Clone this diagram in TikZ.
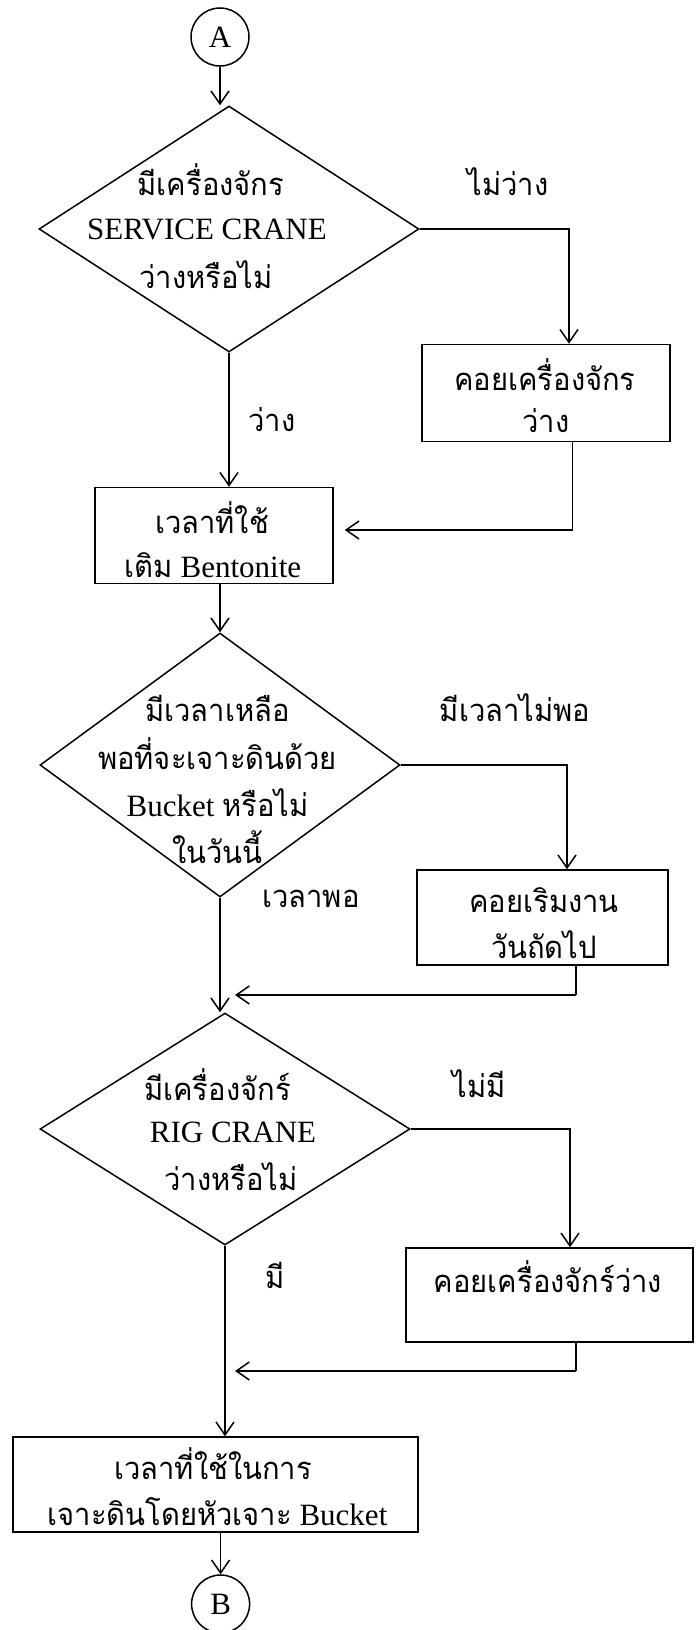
\documentclass[tikz,border=0pt]{standalone}
\usepackage{fontspec}
\setmainfont{Liberation Serif}
\newfontfamily\thaifont[Script=Thai,FakeStretch=0.94]{Loma}
\usetikzlibrary{shapes.geometric,arrows.meta}
\newcommand{\tx}[1]{{\thaifont #1}}
\begin{document}
\begin{tikzpicture}[x=1pt,y=1pt]
\tikzset{
  ln/.style={line width=1.5pt},
  arr/.style={ln, -{Straight Barb[length=13pt,width=18pt,line width=1.5pt]}},
  boxn/.style={draw, line width=1.5pt, rectangle, inner sep=0pt},
  dia/.style={draw, line width=1.5pt, diamond, inner sep=0pt},
  txt/.style={font=\fontsize{31}{36}\selectfont, inner sep=0pt},
  circ/.style={draw, line width=1.5pt, circle, inner sep=0pt, minimum size=58pt, font=\fontsize{31}{36}\selectfont}
}
\useasboundingbox (0,0) rectangle (696,-1630);
\fill[white] (0,0) rectangle (696,-1630);

% nodes
\node[circ] (A) at (220,-37) {A};
\node[dia, minimum width=380pt, minimum height=246pt] (d1) at (229,-229) {};
\node[txt] (d1a) at (211,-180) {\tx{มีเครื่องจักร}};
\node[txt] (d1b) at (207,-229) {SERVICE CRANE};
\node[txt] (d1c) at (206,-275) {\tx{ว่างหรือไม่}};
\node[txt] (l1) at (508,-182) {\tx{ไม่ว่าง}};

\node[boxn, minimum width=248pt, minimum height=97pt] (b2) at (546,-393) {};
\node[txt] (b2a) at (545,-375) {\tx{คอยเครื่องจักร}};
\node[txt] (b2b) at (546,-421) {\tx{ว่าง}};
\node[txt] (l2) at (272,-420) {\tx{ว่าง}};

\node[boxn, minimum width=238pt, minimum height=96pt] (b3) at (214,-535.5) {};
\node[txt] (b3a) at (212,-518) {\tx{เวลาที่ใช้}};
\node[txt] (b3b) at (213,-565) {\tx{เติม} Bentonite};

\node[dia, minimum width=360pt, minimum height=264pt] (d2) at (220,-765) {};
\node[txt] (d2a) at (217.5,-708) {\tx{มีเวลาเหลือ}};
\node[txt] (d2b) at (217.5,-754) {\tx{พอที่จะเจาะดินด้วย}};
\node[txt] (d2c) at (217.5,-802.5) {Bucket \tx{หรือไม่}};
\node[txt] (d2d) at (217.5,-847) {\tx{ในวันนี้}};
\node[txt] (l3) at (515,-708) {\tx{มีเวลาไม่พอ}};

\node[boxn, minimum width=251pt, minimum height=95pt] (b4) at (542.5,-917.5) {};
\node[txt] (b4a) at (544,-900) {\tx{คอยเริมงาน}};
\node[txt] (b4b) at (544,-945) {\tx{วันถัดไป}};
\node[txt] (l4) at (311,-899) {\tx{เวลาพอ}};

\node[dia, minimum width=370pt, minimum height=232pt] (d3) at (225,-1129) {};
\node[txt] (d3a) at (217.5,-1084.6) {\tx{มีเครื่องจักร์}};
\node[txt] (d3b) at (233,-1132.6) {RIG CRANE};
\node[txt] (d3c) at (231,-1176.5) {\tx{ว่างหรือไม่}};
\node[txt] (l5) at (479,-1084) {\tx{ไม่มี}};

\node[boxn, minimum width=287pt, minimum height=94pt] (b5) at (549.5,-1295) {};
\node[txt] (b5a) at (548,-1277) {\tx{คอยเครื่องจักร์ว่าง}};
\node[txt] (l6) at (275,-1275) {\tx{มี}};

\node[boxn, minimum width=405pt, minimum height=95pt] (b6) at (215.7,-1484.5) {};
\node[txt] (b6a) at (213,-1464) {\tx{เวลาที่ใช้ในการ}};
\node[txt] (b6b) at (217.5,-1511.5) {\tx{เจาะดินโดยหัวเจาะ} Bucket};

\node[circ] (B) at (220.6,-1604) {B};

% coordinates
\coordinate (k1) at (569,-229);
\coordinate (k2) at (572.6,-530);
\coordinate (k3) at (567,-765);
\coordinate (k4) at (576,-995);
\coordinate (k5) at (570,-1129);
\coordinate (k6) at (576,-1371);
\coordinate (m1) at (223,-995);
\coordinate (m2) at (224,-1371);

% connectors
\draw[arr] (A.south) -- (A.south |- d1.north);
\draw[arr] (d1.east) -- (k1) -- (k1 |- b2.north);
\draw[arr] (d1.south) -- (d1.south |- b3.north);
\draw[ln] (k2 |- b2.south) -- (k2);
\draw[arr, shorten >=11pt] (k2) -- (k2 -| b3.east);
\draw[arr] (b3.south -| d2.north) -- (d2.north);
\draw[arr] (d2.east) -- (k3) -- (k3 |- b4.north);
\draw[arr] (d2.south) -- (d2.south |- d3.north);
\draw[ln] (k4 |- b4.south) -- (k4);
\draw[arr, shorten >=12pt] (k4) -- (m1);
\draw[arr] (d3.east) -- (k5) -- (k5 |- b5.north);
\draw[arr] (d3.south) -- (d3.south |- b6.north);
\draw[ln] (k6 |- b5.south) -- (k6);
\draw[arr, shorten >=11pt] (k6) -- (m2);
\draw[arr] (b6.south -| B.north) -- (B.north);
\end{tikzpicture}
\end{document}
